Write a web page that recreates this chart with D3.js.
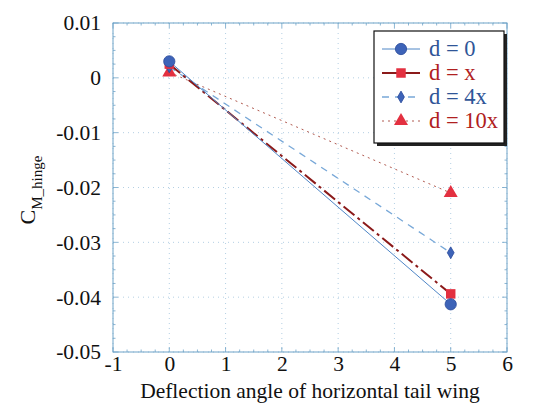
<!DOCTYPE html>
<html>
<head>
<meta charset="utf-8">
<script src="https://cdn.jsdelivr.net/npm/d3@7"></script>
<style>
  body { margin: 0; background: #fff; }
</style>
</head>
<body>
<svg id="chart" width="544" height="403"></svg>
<script>
// Hinge moment coefficient vs. tail deflection angle
const angles = [0, 5];
const seriesNames = ["d = 0", "d = x", "d = 4x", "d = 10x"];
const d0Values = [0.0030, -0.0413];
const dxValues = [0.0025, -0.0394];
const d4xValues = [0.0020, -0.0319];
const d10xValues = [0.0010, -0.0210];
const xTicks = [-1, 0, 1, 2, 3, 4, 5, 6];
const xTickLabels = ["-1", "0", "1", "2", "3", "4", "5", "6"];
const yTicks = [0.01, 0, -0.01, -0.02, -0.03, -0.04, -0.05];
const yTickLabels = ["0.01", "0", "-0.01", "-0.02", "-0.03", "-0.04", "-0.05"];

const FONT = "Liberation Serif";
const svg = d3.select("#chart");
const margin = { left: 113, right: 37, top: 23, bottom: 51 };
const W = 544, H = 403;
const x = d3.scaleLinear().domain([-1, 6]).range([margin.left, W - margin.right]);
const y = d3.scaleLinear().domain([-0.05, 0.01]).range([H - margin.bottom, margin.top]);

const gridColor = "#9fc3dc";
const axisColor = "#6fa3c8";

// dotted grid
const grid = svg.append("g");
xTicks.forEach(t => grid.append("line")
  .attr("x1", x(t)).attr("x2", x(t)).attr("y1", y(0.01)).attr("y2", y(-0.05))
  .attr("stroke", gridColor).attr("stroke-width", 0.8).attr("stroke-dasharray", "1,4"));
yTicks.forEach(t => grid.append("line")
  .attr("x1", x(-1)).attr("x2", x(6)).attr("y1", y(t)).attr("y2", y(t))
  .attr("stroke", gridColor).attr("stroke-width", 0.8).attr("stroke-dasharray", "1,4"));

// frame
svg.append("rect")
  .attr("x", x(-1)).attr("y", y(0.01))
  .attr("width", x(6) - x(-1)).attr("height", y(-0.05) - y(0.01))
  .attr("fill", "none").attr("stroke", axisColor).attr("stroke-width", 1);

// inward ticks on all four sides
const xMinor = d3.range(-1, 6.001, 0.25);
const yMinor = d3.range(-0.05, 0.0101, 0.0025);
const tickG = svg.append("g").attr("stroke", axisColor).attr("stroke-width", 0.8);
xMinor.forEach(t => {
  const major = Math.abs(t - Math.round(t)) < 1e-6;
  const len = major ? 5 : 2.5;
  tickG.append("line").attr("x1", x(t)).attr("x2", x(t)).attr("y1", y(-0.05)).attr("y2", y(-0.05) - len);
  tickG.append("line").attr("x1", x(t)).attr("x2", x(t)).attr("y1", y(0.01)).attr("y2", y(0.01) + len);
});
yMinor.forEach(t => {
  const major = Math.abs(t * 100 - Math.round(t * 100)) < 1e-6;
  const len = major ? 5 : 2.5;
  tickG.append("line").attr("y1", y(t)).attr("y2", y(t)).attr("x1", x(-1)).attr("x2", x(-1) + len);
  tickG.append("line").attr("y1", y(t)).attr("y2", y(t)).attr("x1", x(6)).attr("x2", x(6) - len);
});

const xAxis = d3.axisBottom(x).tickValues(xTicks).tickSize(0).tickPadding(4)
  .tickFormat((d, i) => xTickLabels[i]);
svg.append("g").attr("transform", `translate(0,${y(-0.05)})`).call(xAxis)
  .attr("font-family", FONT)
  .call(g => g.select(".domain").remove())
  .selectAll("text").attr("font-family", FONT).attr("font-size", 21.5).attr("fill", "#111");

const yAxis = d3.axisLeft(y).tickValues(yTicks).tickSize(0).tickPadding(12)
  .tickFormat((d, i) => yTickLabels[i]);
svg.append("g").attr("transform", `translate(${x(-1)},0)`).call(yAxis)
  .attr("font-family", FONT)
  .call(g => g.select(".domain").remove())
  .selectAll("text").attr("font-family", FONT).attr("font-size", 21.5).attr("fill", "#111");

// axis titles
svg.append("text").attr("x", (x(-1) + x(6)) / 2).attr("y", 398)
  .attr("font-family", FONT)
  .attr("text-anchor", "middle").attr("font-size", 21.5).attr("fill", "#111")
  .text("Deflection angle of horizontal tail wing");

const yt = svg.append("text").attr("transform", `translate(35,190) rotate(-90)`)
  .attr("font-family", FONT)
  .attr("text-anchor", "middle").attr("fill", "#111");
yt.append("tspan").attr("font-size", 22).text("C");
yt.append("tspan").attr("font-size", 15).attr("dy", 7).text("M_hinge");

// series
const series = [
  { name: seriesNames[0], values: d0Values, line: "#4f86c6", width: 1, dash: null, marker: "circle", fill: "#3d63b8", text: "#2f5597" },
  { name: seriesNames[1], values: dxValues, line: "#8b1a1a", width: 2, dash: "14,4,3,4", marker: "square", fill: "#e33040", text: "#b02020" },
  { name: seriesNames[2], values: d4xValues, line: "#78a8d8", width: 1.3, dash: "7,6", marker: "diamond", fill: "#3d63b8", text: "#2f5597" },
  { name: seriesNames[3], values: d10xValues, line: "#b05a50", width: 1, dash: "2,4", marker: "triangle", fill: "#e33040", text: "#b02020" }
];
const symType = { circle: d3.symbolCircle, square: d3.symbolSquare, diamond: d3.symbolDiamond, triangle: d3.symbolTriangle };
const symSize = { circle: 100, square: 90, diamond: 40, triangle: 85 };

const line = d3.line().x(d => x(d[0])).y(d => y(d[1]));
// lines first, then markers on top; d = 0 drawn last
const order = [3, 2, 1, 0];
order.forEach(i => {
  const s = series[i];
  const pts = angles.map((a, j) => [a, s.values[j]]);
  svg.append("path").datum(pts).attr("d", line)
    .attr("fill", "none").attr("stroke", s.line).attr("stroke-width", s.width)
    .attr("stroke-dasharray", s.dash);
});
order.forEach(i => {
  const s = series[i];
  angles.forEach((a, j) => {
    svg.append("path")
      .attr("d", d3.symbol().type(symType[s.marker]).size(symSize[s.marker])())
      .attr("transform", `translate(${x(a)},${y(s.values[j])})`)
      .attr("fill", s.fill).attr("stroke", s.marker === "circle" || s.marker === "diamond" ? "#2a4a9a" : "none")
      .attr("stroke-width", 0.8);
  });
});

// legend
const lg = svg.append("g").attr("transform", "translate(374,31)");
lg.append("rect").attr("x", 3).attr("y", 3).attr("width", 130).attr("height", 112).attr("fill", "#222");
lg.append("rect").attr("x", 0).attr("y", 0).attr("width", 130).attr("height", 112)
  .attr("fill", "#fff").attr("stroke", "#111").attr("stroke-width", 1.2);
series.forEach((s, i) => {
  const cy = 18 + i * 24;
  lg.append("line").attr("x1", 8).attr("x2", 46).attr("y1", cy).attr("y2", cy)
    .attr("stroke", s.line).attr("stroke-width", s.width).attr("stroke-dasharray", s.dash ? (i === 1 ? null : s.dash) : null);
  lg.append("path")
    .attr("d", d3.symbol().type(symType[s.marker]).size(symSize[s.marker])())
    .attr("transform", `translate(27,${cy})`)
    .attr("fill", s.fill).attr("stroke", s.marker === "circle" || s.marker === "diamond" ? "#2a4a9a" : "none")
    .attr("stroke-width", 0.8);
  lg.append("text").attr("x", 55).attr("y", cy + 7).attr("font-family", FONT).attr("font-size", 22.5)
    .attr("fill", s.text).text(s.name);
});
</script>
</body>
</html>
